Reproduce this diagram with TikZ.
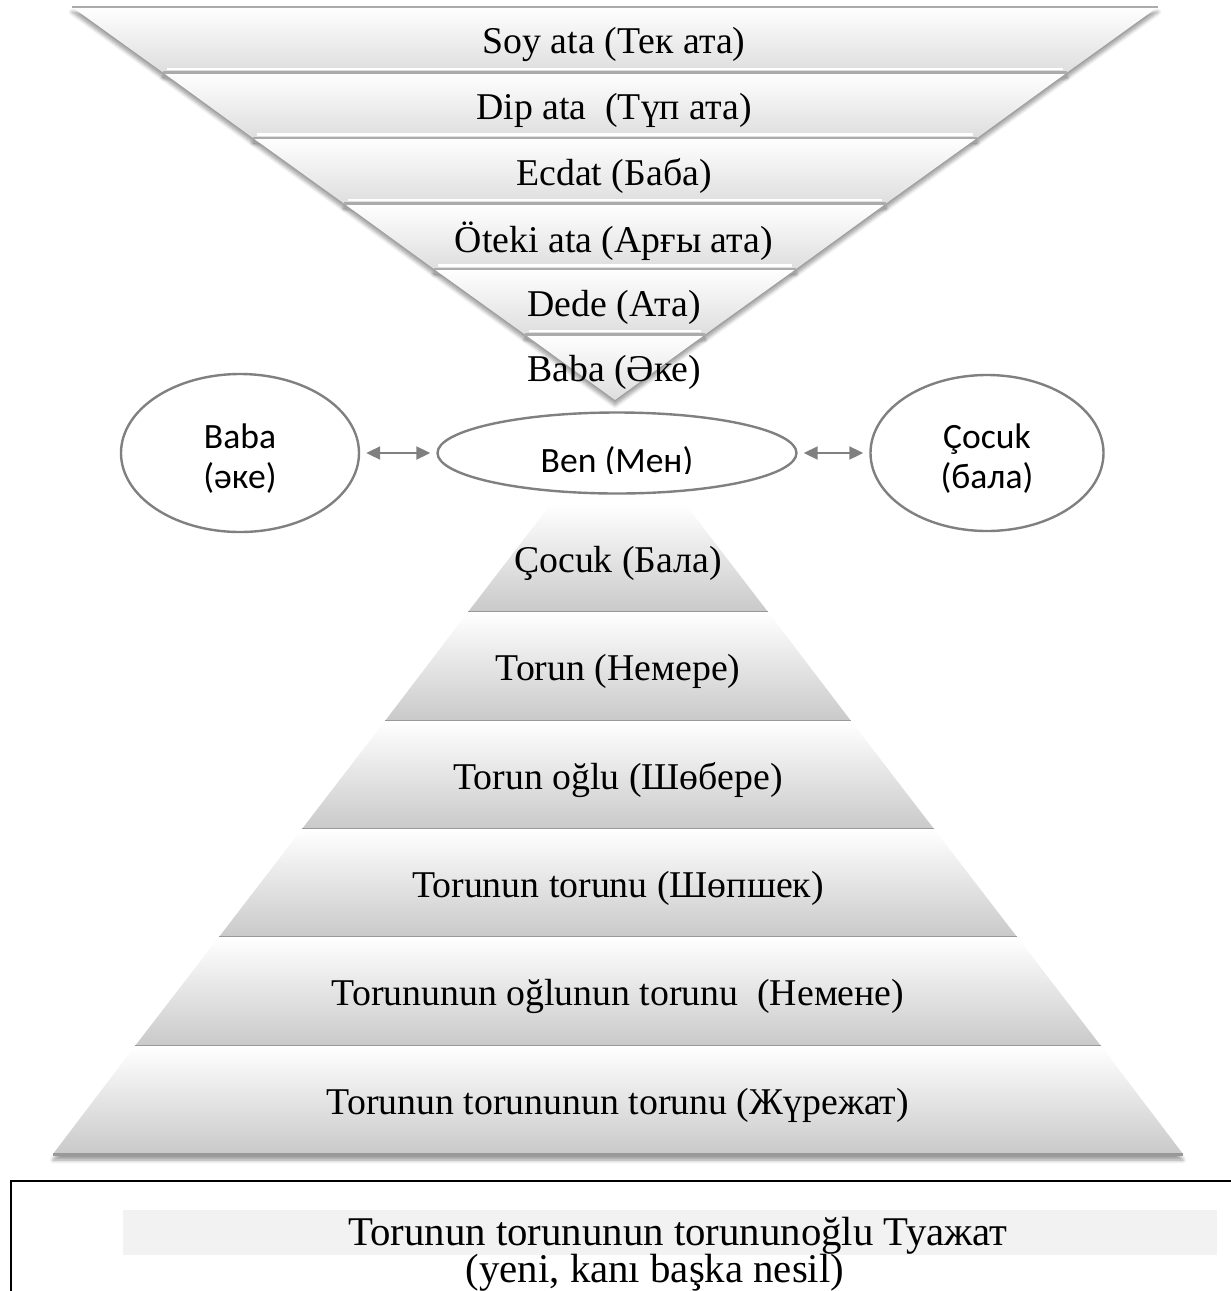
\documentclass[tikz,border=0pt]{standalone}
\usepackage{fontspec}
\setmainfont{Liberation Serif}
\newfontfamily\calibrifont{Carlito}
\usetikzlibrary{shapes.geometric,arrows.meta,shadows.blur}

\begin{document}
\begin{tikzpicture}[x=0.5pt,y=0.5pt,yscale=-1,xscale=1,
  upband/.style={top color=white,bottom color=black!13,
    blur shadow={shadow xshift=0pt,shadow yshift=-2.5pt,shadow blur steps=6,shadow opacity=40}},
  lowband/.style={top color=white,bottom color=black!21,
    blur shadow={shadow xshift=0pt,shadow yshift=-3pt,shadow blur steps=6,shadow opacity=40}},
  upedge/.style={draw=black!33,line width=1.2pt},
  uplight/.style={draw=white,line width=1.2pt},
  lowedge/.style={draw=black!40,line width=1.5pt},
  bandtext/.style={inner sep=0pt,font=\fontsize{18.9}{22}\selectfont},
  boxtext/.style={inner sep=0pt,font=\fontsize{20.4}{24}\selectfont},
  kinship/.style={ellipse,draw=black!50,line width=1.2pt,fill=white,inner sep=0pt},
  kintext/.style={inner sep=0pt,align=center,font=\calibrifont\fontsize{17.8}{20}\selectfont},
  kinlink/.style={draw=black!50,line width=1pt,
    {Triangle[length=7pt,width=6.5pt]}-{Triangle[length=7pt,width=6.5pt]},
    shorten <=3pt,shorten >=3pt}
]
\useasboundingbox (0,0) rectangle (1231,1291);

%Shape: Inverted Pyramid, band 1
\shade [upband] (72,7) -- (1158,7) -- (1067,72.5) -- (163,72.5) -- cycle ;
\draw [upedge] (72,7) -- (1158,7) ;
%Shape: Inverted Pyramid, band 2
\shade [upband] (163,72.5) -- (1067,72.5) -- (977,138) -- (253,138) -- cycle ;
\draw [uplight] (167,69) -- (1063,69) ;
\draw [upedge] (163,72.5) -- (1067,72.5) ;
%Shape: Inverted Pyramid, band 3
\shade [upband] (253,138) -- (977,138) -- (886,203.5) -- (344,203.5) -- cycle ;
\draw [uplight] (257,134.5) -- (973,134.5) ;
\draw [upedge] (253,138) -- (977,138) ;
%Shape: Inverted Pyramid, band 4
\shade [upband] (344,203.5) -- (886,203.5) -- (796,269) -- (434,269) -- cycle ;
\draw [uplight] (348,200) -- (882,200) ;
\draw [upedge] (344,203.5) -- (886,203.5) ;
%Shape: Inverted Pyramid, band 5
\shade [upband] (434,269) -- (796,269) -- (705,334.5) -- (525,334.5) -- cycle ;
\draw [uplight] (438,265.5) -- (792,265.5) ;
\draw [upedge] (434,269) -- (796,269) ;
%Shape: Inverted Pyramid, band 6
\shade [upband] (525,334.5) -- (705,334.5) -- (615,400) -- cycle ;
\draw [uplight] (529,331) -- (701,331) ;
\draw [upedge] (525,334.5) -- (705,334.5) ;

% Text Node
\draw (614,44.5) node (tekata) [bandtext] {Soy ata (Тек ата)};
% Text Node
\draw (614,110) node (tupata) [bandtext] {Dip ata~ (Түп ата)};
% Text Node
\draw (614,175.5) node (baba) [bandtext] {Ecdat (Баба)};
% Text Node
\draw (614,241.5) node (argyata) [bandtext] {Öteki ata (Арғы ата)};
% Text Node
\draw (614,307) node (ata) [bandtext] {Dede (Ата)};
% Text Node
\draw (614,372.5) node (ake) [bandtext] {Baba (Әке)};

%Shape: Ellipse
\draw (240,453) node (father) [kinship,minimum width=119pt,minimum height=79pt] {};
%Shape: Ellipse
\draw (617,453) node (men) [kinship,minimum width=179.5pt,minimum height=40.5pt] {};
%Shape: Ellipse
\draw (987,453) node (child) [kinship,minimum width=116.5pt,minimum height=78pt] {};
% Text Node
\draw (240,459) node (fathertext) [kintext] {Baba\\(әке)};
% Text Node
\draw (987,459) node (childtext) [kintext] {Çocuk\\(бала)};
\begin{scope}
\clip (440,420) rectangle (795,473.5);
% Text Node
\draw (617,472) node (mentext) [anchor=base,kintext] {Ben (Мен)};
\end{scope}
%Straight Lines
\draw [kinlink] (father) -- (men) ;
%Straight Lines
\draw [kinlink] (men) -- (child) ;

%Shape: Pyramid, band 1
\shade [lowband] (551,504) -- (685,504) -- (768,612) -- (468,612) -- cycle ;
\draw [lowedge] (468,612) -- (768,612) ;
%Shape: Pyramid, band 2
\shade [lowband] (468,612) -- (768,612) -- (851,721) -- (385,721) -- cycle ;
\draw [lowedge] (385,721) -- (851,721) ;
%Shape: Pyramid, band 3
\shade [lowband] (385,721) -- (851,721) -- (934,829) -- (302,829) -- cycle ;
\draw [lowedge] (302,829) -- (934,829) ;
%Shape: Pyramid, band 4
\shade [lowband] (302,829) -- (934,829) -- (1017,937) -- (219,937) -- cycle ;
\draw [lowedge] (219,937) -- (1017,937) ;
%Shape: Pyramid, band 5
\shade [lowband] (219,937) -- (1017,937) -- (1101,1046) -- (135,1046) -- cycle ;
\draw [lowedge] (135,1046) -- (1101,1046) ;
%Shape: Pyramid, band 6
\shade [lowband] (135,1046) -- (1101,1046) -- (1183,1154) -- (53,1154) -- cycle ;
\draw [lowedge] (53,1154) -- (1183,1154) ;

% Text Node
\draw (618,563) node (bala) [bandtext] {Çocuk (Бала)};
% Text Node
\draw (618,671) node (nemere) [bandtext] {Torun (Немере)};
% Text Node
\draw (618,780) node (shobere) [bandtext] {Torun oğlu (Шөбере)};
% Text Node
\draw (618,888) node (shopshek) [bandtext] {Torunun torunu (Шөпшек)};
% Text Node
\draw (618,996.5) node (nemene) [bandtext] {Torununun oğlunun torunu~ (Немене)};
% Text Node
\draw (618,1105) node (zhurezhat) [bandtext] {Torunun torununun torunu (Жүрежат)};

%Straight Lines
\draw [line width=1pt] (1240,1181) -- (11,1181) -- (11,1300) ;
%Shape: Rectangle
\fill [black!5] (123,1210) rectangle (1217,1255) ;
% Text Node
\draw (678,1245) node (tuazhat) [anchor=base,boxtext] {Torunun torununun torununoğlu Туажат};
% Text Node
\draw (655,1282) node (nesil) [anchor=base,boxtext] {(yeni, kanı başka nesil)};
\end{tikzpicture}
\end{document}
